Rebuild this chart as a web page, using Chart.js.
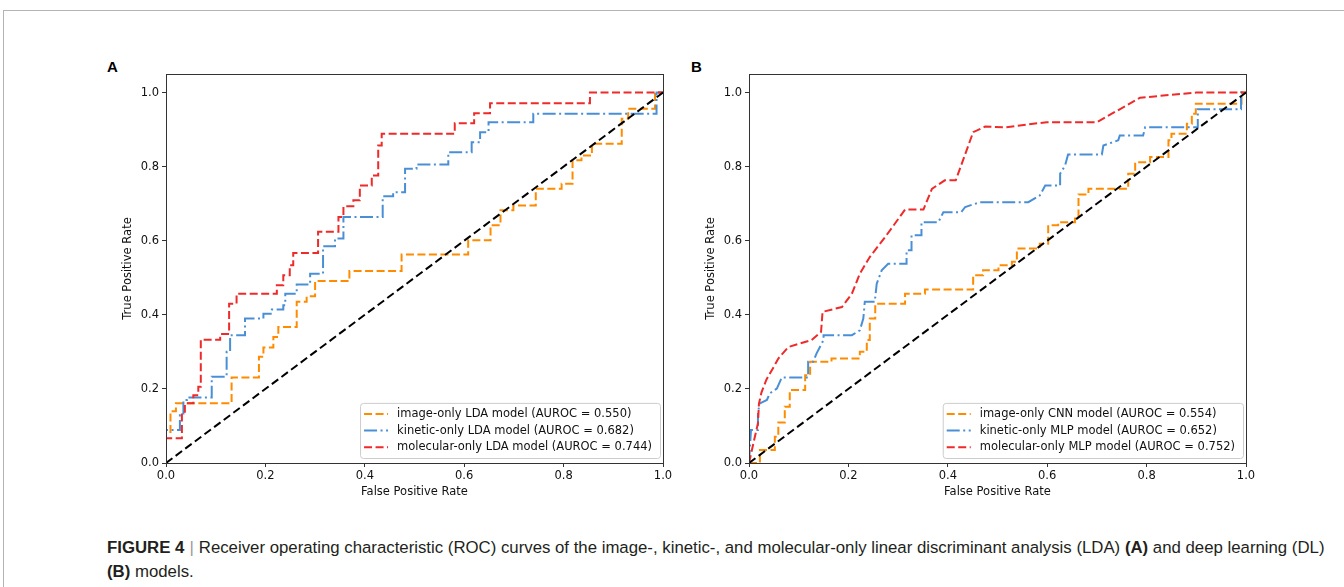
<!DOCTYPE html>
<html>
<head>
<meta charset="utf-8">
<script src="https://cdn.jsdelivr.net/npm/chart.js@4.4.1/dist/chart.umd.min.js"></script>
<style>
  body { margin: 0; background: #fff; width: 1344px; height: 587px; overflow: hidden; position: relative; font-family: "Liberation Sans", Arial, sans-serif; }
  .frame { position: absolute; left: 3px; top: 10px; width: 1341px; height: 577px; border-top: 1px solid #b4b4b4; border-left: 1px solid #b4b4b4; }
  .panel { position: absolute; top: 60px; width: 590px; height: 450px; }
  .tag { position: absolute; top: 58px; font: bold 15px "Liberation Sans", Arial, sans-serif; color: #000; }
  .cap { position: absolute; left: 107px; font-size: 16.8px; color: #231f20; white-space: nowrap; }
  .cap .sep { color: #999; margin: 0 5px; }
</style>
</head>
<body>
<div class="frame"></div>
<div class="tag" style="left:107px">A</div>
<div class="tag" style="left:691px">B</div>
<div class="panel" style="left:90px"><canvas id="chartA" width="590" height="450"></canvas></div>
<div class="panel" style="left:673px"><canvas id="chartB" width="590" height="450"></canvas></div>
<div class="cap" style="top:538px"><b>FIGURE 4</b><span class="sep">|</span>Receiver operating characteristic (ROC) curves of the image-, kinetic-, and molecular-only linear discriminant analysis (LDA) <b>(A)</b> and deep learning (DL)</div>
<div class="cap" style="top:562px"><b>(B)</b> models.</div>
<script>
// tick labels
const xTicks = [0, 0.2, 0.4, 0.6, 0.8, 1.0];
const yTicks = [0, 0.2, 0.4, 0.6, 0.8, 1.0];

// panel A - LDA models
const aLabels = ['image-only LDA model (AUROC = 0.550)', 'kinetic-only LDA model (AUROC = 0.682)', 'molecular-only LDA model (AUROC = 0.744)'];
const aImageFpr = [0, 0, 0.009, 0.009, 0.02, 0.02, 0.132, 0.132, 0.187, 0.187, 0.196, 0.196, 0.216, 0.216, 0.226, 0.226, 0.263, 0.263, 0.283, 0.283, 0.3, 0.3, 0.369, 0.369, 0.474, 0.474, 0.608, 0.608, 0.653, 0.653, 0.673, 0.673, 0.699, 0.699, 0.744, 0.744, 0.796, 0.796, 0.818, 0.818, 0.836, 0.836, 0.857, 0.857, 0.917, 0.917, 0.93, 0.93, 0.984, 0.984, 1];
const aImageTpr = [0, 0.084, 0.084, 0.14, 0.14, 0.161, 0.161, 0.231, 0.231, 0.287, 0.287, 0.312, 0.312, 0.34, 0.34, 0.367, 0.367, 0.435, 0.435, 0.45, 0.45, 0.491, 0.491, 0.518, 0.518, 0.563, 0.563, 0.601, 0.601, 0.642, 0.642, 0.682, 0.682, 0.695, 0.695, 0.74, 0.74, 0.754, 0.754, 0.817, 0.817, 0.83, 0.83, 0.862, 0.862, 0.929, 0.929, 0.956, 0.956, 1, 1];
const aKineticFpr = [0, 0, 0.028, 0.028, 0.035, 0.035, 0.042, 0.042, 0.092, 0.092, 0.122, 0.122, 0.129, 0.129, 0.159, 0.159, 0.196, 0.196, 0.213, 0.213, 0.236, 0.236, 0.24, 0.24, 0.263, 0.263, 0.29, 0.29, 0.316, 0.316, 0.34, 0.34, 0.357, 0.357, 0.436, 0.436, 0.457, 0.457, 0.481, 0.481, 0.504, 0.504, 0.568, 0.568, 0.615, 0.615, 0.632, 0.632, 0.649, 0.649, 0.739, 0.739, 0.987, 0.987, 1];
const aKineticTpr = [0, 0.089, 0.089, 0.129, 0.129, 0.17, 0.17, 0.177, 0.177, 0.233, 0.233, 0.3, 0.3, 0.345, 0.345, 0.39, 0.39, 0.403, 0.403, 0.414, 0.414, 0.426, 0.426, 0.457, 0.457, 0.482, 0.482, 0.511, 0.511, 0.585, 0.585, 0.606, 0.606, 0.664, 0.664, 0.72, 0.72, 0.731, 0.731, 0.794, 0.794, 0.806, 0.806, 0.839, 0.839, 0.866, 0.866, 0.893, 0.893, 0.92, 0.92, 0.943, 0.943, 1, 1];
const aMolecularFpr = [0, 0, 0.032, 0.032, 0.038, 0.038, 0.055, 0.055, 0.065, 0.065, 0.07, 0.07, 0.109, 0.109, 0.127, 0.127, 0.142, 0.142, 0.223, 0.223, 0.236, 0.236, 0.249, 0.249, 0.256, 0.256, 0.306, 0.306, 0.347, 0.347, 0.357, 0.357, 0.377, 0.377, 0.39, 0.39, 0.414, 0.414, 0.427, 0.427, 0.434, 0.434, 0.581, 0.581, 0.62, 0.62, 0.652, 0.652, 0.853, 0.853, 1];
const aMolecularTpr = [0, 0.067, 0.067, 0.138, 0.138, 0.161, 0.161, 0.183, 0.183, 0.206, 0.206, 0.333, 0.333, 0.348, 0.348, 0.43, 0.43, 0.457, 0.457, 0.48, 0.48, 0.507, 0.507, 0.534, 0.534, 0.567, 0.567, 0.624, 0.624, 0.664, 0.664, 0.693, 0.693, 0.709, 0.709, 0.749, 0.749, 0.776, 0.776, 0.857, 0.857, 0.889, 0.889, 0.917, 0.917, 0.944, 0.944, 0.971, 0.971, 1, 1];

// panel B - DL models
const bLabels = ['image-only CNN model (AUROC = 0.554)', 'kinetic-only MLP model (AUROC = 0.652)', 'molecular-only MLP model (AUROC = 0.752)'];
const bImageFpr = [0, 0.022, 0.022, 0.052, 0.052, 0.059, 0.059, 0.072, 0.072, 0.082, 0.082, 0.113, 0.113, 0.123, 0.123, 0.166, 0.166, 0.223, 0.223, 0.237, 0.237, 0.243, 0.243, 0.254, 0.254, 0.314, 0.314, 0.354, 0.354, 0.451, 0.451, 0.471, 0.471, 0.502, 0.502, 0.529, 0.529, 0.539, 0.539, 0.585, 0.585, 0.602, 0.602, 0.622, 0.622, 0.656, 0.656, 0.663, 0.663, 0.683, 0.683, 0.763, 0.763, 0.777, 0.777, 0.807, 0.807, 0.844, 0.844, 0.85, 0.85, 0.881, 0.881, 0.891, 0.891, 0.899, 0.899, 0.991, 0.991, 1];
const bImageTpr = [0, 0, 0.035, 0.035, 0.071, 0.071, 0.109, 0.109, 0.152, 0.152, 0.197, 0.197, 0.237, 0.237, 0.273, 0.273, 0.282, 0.282, 0.3, 0.3, 0.332, 0.332, 0.39, 0.39, 0.43, 0.43, 0.457, 0.457, 0.468, 0.468, 0.507, 0.507, 0.52, 0.52, 0.534, 0.534, 0.543, 0.543, 0.579, 0.579, 0.592, 0.592, 0.642, 0.642, 0.65, 0.65, 0.664, 0.664, 0.725, 0.725, 0.74, 0.74, 0.781, 0.781, 0.812, 0.812, 0.826, 0.826, 0.871, 0.871, 0.889, 0.889, 0.916, 0.916, 0.943, 0.943, 0.97, 0.97, 1, 1];
const bKineticFpr = [0, 0.004, 0.018, 0.018, 0.022, 0.036, 0.042, 0.056, 0.066, 0.119, 0.119, 0.129, 0.136, 0.15, 0.15, 0.207, 0.223, 0.23, 0.233, 0.253, 0.257, 0.267, 0.28, 0.317, 0.317, 0.327, 0.327, 0.347, 0.347, 0.381, 0.391, 0.427, 0.435, 0.465, 0.562, 0.585, 0.596, 0.626, 0.626, 0.636, 0.642, 0.71, 0.713, 0.743, 0.746, 0.793, 0.797, 0.903, 0.903, 0.99, 0.99, 1];
const bKineticTpr = [0, 0.089, 0.089, 0.138, 0.161, 0.17, 0.188, 0.201, 0.231, 0.231, 0.273, 0.273, 0.296, 0.332, 0.345, 0.345, 0.358, 0.39, 0.435, 0.435, 0.484, 0.52, 0.538, 0.538, 0.574, 0.574, 0.615, 0.615, 0.65, 0.65, 0.677, 0.677, 0.691, 0.704, 0.704, 0.722, 0.749, 0.749, 0.781, 0.803, 0.833, 0.833, 0.857, 0.871, 0.884, 0.884, 0.906, 0.906, 0.955, 0.955, 1, 1];
const bMolecularFpr = [0, 0.01, 0.018, 0.02, 0.025, 0.035, 0.05, 0.059, 0.079, 0.103, 0.126, 0.145, 0.148, 0.187, 0.207, 0.223, 0.243, 0.274, 0.314, 0.351, 0.368, 0.394, 0.416, 0.451, 0.475, 0.515, 0.599, 0.7, 0.787, 0.9, 1];
const bMolecularTpr = [0, 0.06, 0.107, 0.16, 0.19, 0.225, 0.26, 0.282, 0.313, 0.323, 0.332, 0.354, 0.408, 0.421, 0.457, 0.511, 0.556, 0.61, 0.684, 0.684, 0.74, 0.763, 0.763, 0.893, 0.908, 0.906, 0.92, 0.92, 0.986, 1, 1];

const chanceLine = [0, 1];

const colors = ['#ff8c00', '#4a8fd6', '#ee2a2a'];
const dashes = [[8, 3.5], [13, 3.5, 2, 3.5], [8, 3.5]];
const tickFont = { family: 'DejaVu Sans', size: 11.5 };
const ink = '#111';

function pts(xs, ys) {
  return xs.map((x, i) => ({ x: x, y: ys[i] }));
}

// the matplotlib style box round the plot area
const framePlugin = {
  id: 'frame',
  afterDraw(chart) {
    const a = chart.chartArea, ctx = chart.ctx;
    ctx.save();
    ctx.strokeStyle = '#333';
    ctx.lineWidth = 1;
    ctx.strokeRect(Math.round(a.left) + 0.5, Math.round(a.top) + 0.5, Math.round(a.right - a.left), Math.round(a.bottom - a.top));
    ctx.restore();
  }
};

// legend in the lower right corner, inside the axes
const boxLegend = {
  id: 'boxLegend',
  afterDraw(chart, args, opts) {
    const ctx = chart.ctx, a = chart.chartArea;
    const sets = chart.data.datasets.filter(d => d.label);
    ctx.save();
    ctx.font = '11.5px "DejaVu Sans"';
    let w = 0;
    sets.forEach(d => { w = Math.max(w, ctx.measureText(d.label).width); });
    const rowH = 16.7, boxW = w + opts.textOff + 8, boxH = rowH * sets.length + 5;
    const x0 = a.right - 3 - boxW, y0 = a.bottom - 5 - boxH;
    ctx.fillStyle = 'rgba(255,255,255,0.85)';
    ctx.strokeStyle = '#cccccc';
    ctx.lineWidth = 1;
    ctx.beginPath();
    ctx.roundRect(x0 + 0.5, y0 + 0.5, boxW, boxH, 3);
    ctx.fill();
    ctx.stroke();
    sets.forEach((d, i) => {
      const cy = y0 + 11 + i * rowH;
      ctx.strokeStyle = d.borderColor;
      ctx.lineWidth = 2;
      ctx.setLineDash(d.borderDash);
      ctx.beginPath();
      ctx.moveTo(x0 + 4, cy);
      ctx.lineTo(x0 + 4 + opts.sampleW, cy);
      ctx.stroke();
      ctx.setLineDash([]);
      ctx.fillStyle = ink;
      ctx.textBaseline = 'middle';
      ctx.fillText(d.label, x0 + opts.textOff, cy);
    });
    ctx.restore();
  }
};

function makeChart(id, labels, series) {
  const sets = series.map((s, i) => ({
    label: labels[i],
    data: pts(s[0], s[1]),
    showLine: true,
    borderColor: colors[i],
    borderWidth: 2,
    borderDash: dashes[i],
    pointRadius: 0,
    tension: 0,
    order: 4 - i
  }));
  sets.push({
    label: '',
    data: pts(chanceLine, chanceLine),
    showLine: true,
    borderColor: '#000',
    borderWidth: 2,
    borderDash: [8, 4],
    pointRadius: 0,
    order: 0
  });
  return new Chart(document.getElementById(id), {
    type: 'scatter',
    data: { datasets: sets },
    plugins: [framePlugin, boxLegend],
    options: {
      responsive: false,
      animation: false,
      layout: { padding: { left: 0, top: 14, right: 17, bottom: 0 } },
      plugins: {
        legend: { display: false },
        tooltip: { enabled: false },
        boxLegend: { sampleW: 24, textOff: 37 }
      },
      scales: {
        x: {
          type: 'linear', min: 0, max: 1,
          border: { color: '#333', width: 1 },
          grid: { drawOnChartArea: false, drawTicks: true, tickLength: 4, color: '#333' },
          ticks: { font: tickFont, color: ink, padding: 2, maxRotation: 0, callback: v => v.toFixed(1) },
          afterBuildTicks: s => { s.ticks = xTicks.map(v => ({ value: v })); },
          afterFit: s => { s.height = 47; },
          title: { display: true, text: 'False Positive Rate', font: tickFont, color: ink, padding: { top: 0, bottom: 11 } }
        },
        y: {
          type: 'linear', min: 0, max: 1.05,
          border: { color: '#333', width: 1 },
          grid: { drawOnChartArea: false, drawTicks: true, tickLength: 4, color: '#333' },
          ticks: { font: tickFont, color: ink, padding: 3, callback: v => v.toFixed(1) },
          afterBuildTicks: s => { s.ticks = yTicks.map(v => ({ value: v })); },
          afterFit: s => { s.width = 76; },
          title: { display: true, text: 'True Positive Rate', font: tickFont, color: ink, padding: { top: 31, bottom: 0 } }
        }
      }
    }
  });
}

makeChart('chartA', aLabels, [[aImageFpr, aImageTpr], [aKineticFpr, aKineticTpr], [aMolecularFpr, aMolecularTpr]]);
makeChart('chartB', bLabels, [[bImageFpr, bImageTpr], [bKineticFpr, bKineticTpr], [bMolecularFpr, bMolecularTpr]]);
</script>
</body>
</html>
